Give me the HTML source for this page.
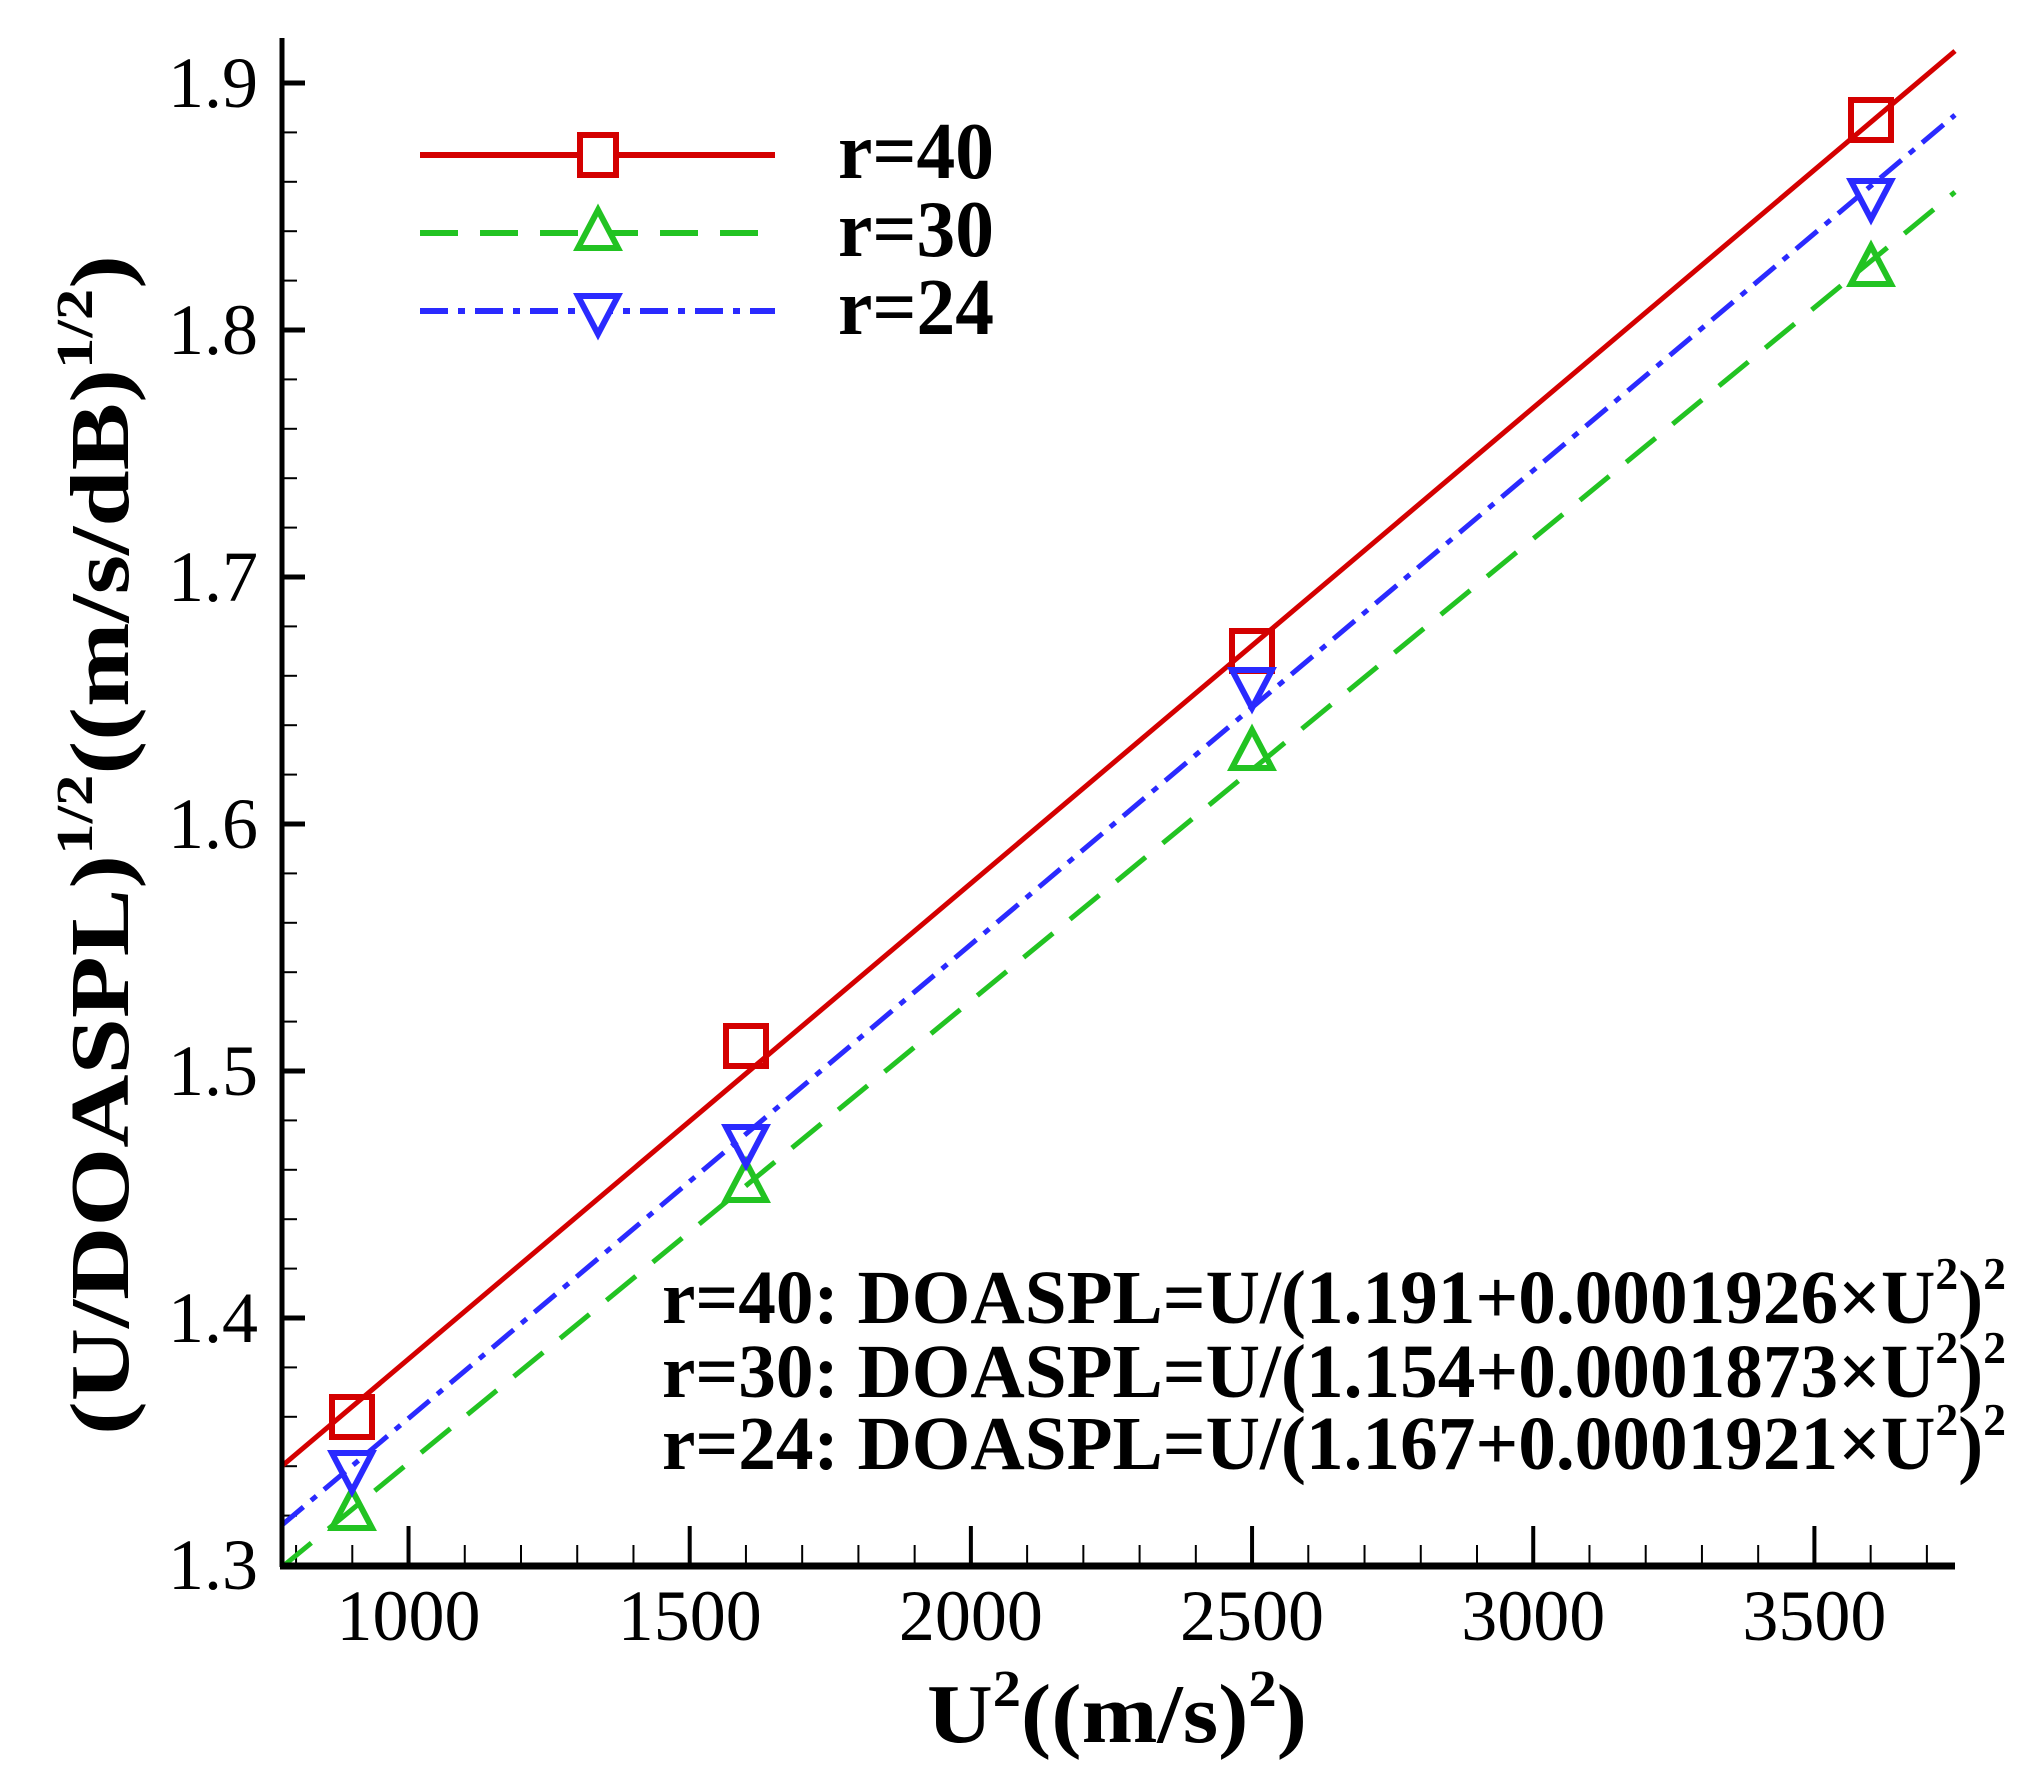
<!DOCTYPE html>
<html><head><meta charset="utf-8"><style>html,body{margin:0;padding:0;background:#fff}svg{display:block}</style></head>
<body>
<svg id="s" width="2026" height="1784" viewBox="0 0 2026 1784" xmlns="http://www.w3.org/2000/svg" font-family="'Liberation Serif',serif">
<rect width="2026" height="1784" fill="#fff"/>
<g id="ticks" stroke="#000"></g>
<!-- fit lines -->
<line x1="282" y1="1466" x2="1955" y2="51" stroke="#d40000" stroke-width="5"/>
<line x1="282" y1="1567" x2="1955" y2="192" stroke="#22c322" stroke-width="5" stroke-dasharray="38 22"/>
<line x1="282" y1="1525" x2="1955" y2="115" stroke="#2a2aff" stroke-width="5" stroke-dasharray="28 10 7 10"/>
<!-- markers -->
<g fill="none" stroke-width="6">
<g stroke="#d40000">
<rect x="332" y="1397" width="40" height="40"/><rect x="726" y="1026" width="40" height="40"/><rect x="1232" y="631" width="40" height="40"/><rect x="1851" y="100" width="40" height="40"/>
</g>
<g stroke="#22c322">
<polygon points="352,1490 332,1528 372,1528"/><polygon points="746,1162 726,1200 766,1200"/><polygon points="1252,730 1232,768 1272,768"/><polygon points="1871,246 1851,284 1891,284"/>
</g>
<g stroke="#2a2aff">
<polygon points="332,1453 372,1453 352,1491"/><polygon points="726,1127 766,1127 746,1165"/><polygon points="1232,670 1272,670 1252,708"/><polygon points="1851,181 1891,181 1871,219"/>
</g>
</g>
<!-- axes -->
<line x1="282" y1="38" x2="282" y2="1567" stroke="#000" stroke-width="5"/>
<line x1="280" y1="1566" x2="1955" y2="1566" stroke="#000" stroke-width="7"/>
<!-- legend -->
<line x1="420" y1="155" x2="775" y2="155" stroke="#d40000" stroke-width="6"/>
<rect x="580" y="135" width="36" height="40" fill="#fff" stroke="#d40000" stroke-width="6"/>
<line x1="420" y1="233" x2="775" y2="233" stroke="#22c322" stroke-width="6" stroke-dasharray="38 22"/>
<polygon points="598,210 578,248 618,248" fill="#fff" stroke="#22c322" stroke-width="6"/>
<line x1="420" y1="311" x2="775" y2="311" stroke="#2a2aff" stroke-width="6" stroke-dasharray="28 10 7 10"/>
<polygon points="578,296 618,296 598,334" fill="#fff" stroke="#2a2aff" stroke-width="6"/>
<g font-weight="bold" font-size="80">
<text x="838" y="178" textLength="156" lengthAdjust="spacingAndGlyphs">r=40</text>
<text x="838" y="256" textLength="156" lengthAdjust="spacingAndGlyphs">r=30</text>
<text x="838" y="334" textLength="156" lengthAdjust="spacingAndGlyphs">r=24</text>
</g>
<!-- equations -->
<g font-weight="bold" font-size="76">
<text x="662" y="1323" textLength="1344" lengthAdjust="spacingAndGlyphs">r=40: DOASPL=U/(1.191+0.0001926×U<tspan dy="-34" font-size="46">2</tspan><tspan dy="34">)</tspan><tspan dy="-34" font-size="46">2</tspan></text>
<text x="662" y="1397" textLength="1344" lengthAdjust="spacingAndGlyphs">r=30: DOASPL=U/(1.154+0.0001873×U<tspan dy="-34" font-size="46">2</tspan><tspan dy="34">)</tspan><tspan dy="-34" font-size="46">2</tspan></text>
<text x="662" y="1469" textLength="1344" lengthAdjust="spacingAndGlyphs">r=24: DOASPL=U/(1.167+0.0001921×U<tspan dy="-34" font-size="46">2</tspan><tspan dy="34">)</tspan><tspan dy="-34" font-size="46">2</tspan></text>
</g>
<g id="labels" font-size="72"></g>
<!-- axis titles -->
<text x="1117" y="1742" text-anchor="middle" font-weight="bold" font-size="84" textLength="380" lengthAdjust="spacingAndGlyphs">U<tspan dy="-36" font-size="52">2</tspan><tspan dy="36">((m/s)</tspan><tspan dy="-36" font-size="52">2</tspan><tspan dy="36">)</tspan></text>
<text transform="translate(128,845) rotate(-90)" x="0" y="0" text-anchor="middle" font-weight="bold" font-size="84" textLength="1180" lengthAdjust="spacingAndGlyphs">(U/DOASPL)<tspan dy="-36" font-size="52">1/2</tspan><tspan dy="36">((m/s/dB)</tspan><tspan dy="-36" font-size="52">1/2</tspan><tspan dy="36">)</tspan></text>
<script>
var t=document.getElementById('ticks'),l=document.getElementById('labels'),ns='http://www.w3.org/2000/svg';
function X(u){return 282+(u-775)*1673/2975}
function Y(v){return 1565-(v-1.3)*2470}
function ln(a,b,c,d,w){var e=document.createElementNS(ns,'line');e.setAttribute('x1',a);e.setAttribute('y1',b);e.setAttribute('x2',c);e.setAttribute('y2',d);e.setAttribute('stroke-width',w);t.appendChild(e)}
function tx(x,y,s,a){var e=document.createElementNS(ns,'text');e.setAttribute('x',x);e.setAttribute('y',y);e.setAttribute('text-anchor',a);e.textContent=s;l.appendChild(e)}
for(var u=800;u<=3700;u+=100){var x=X(u);if(u%500==0){ln(x,1565,x,1526,4);tx(x,1640,String(u),'middle')}else ln(x,1565,x,1545,2)}
for(var i=0;i<=30;i++){var v=1.3+i*0.02,y=Y(v);if(i%5==0){ln(282,y,305,y,5);tx(258,y+24,v.toFixed(1),'end')}else ln(282,y,297,y,2)}
</script>
</svg>
</body></html>
